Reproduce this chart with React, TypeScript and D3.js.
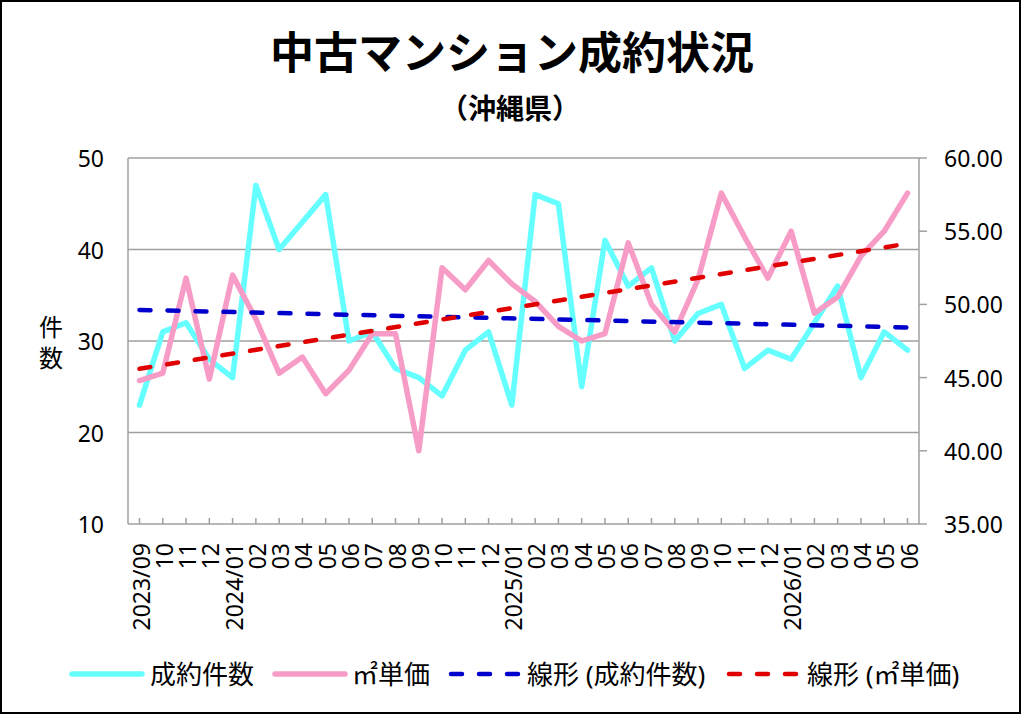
import React from 'react';
import * as d3 from 'd3';

// months shown on the x axis
const months = [
  '2023/09', '10', '11', '12',
  '2024/01', '02', '03', '04', '05', '06', '07', '08', '09', '10', '11', '12',
  '2025/01', '02', '03', '04', '05', '06', '07', '08', '09', '10', '11', '12',
  '2026/01', '02', '03', '04', '05', '06'
];
// 成約件数 (left axis)
const counts = [
  23, 31, 32, 28,
  26, 47, 40, 43, 46, 30, 31, 27, 26, 24, 29, 31,
  23, 46, 45, 25, 41, 36, 38, 30, 33, 34, 27, 29,
  28, 32, 36, 26, 31, 29
];
// ㎡単価 (right axis)
const unitPrices = [
  44.8, 45.3, 51.8, 44.9,
  52.0, 49.0, 45.3, 46.4, 43.9, 45.5, 48.0, 48.0, 40.0, 52.5, 51.0, 53.0,
  51.4, 50.2, 48.5, 47.5, 48.0, 54.2, 50.0, 48.1, 51.7, 57.6, 54.6, 51.8,
  55.0, 49.4, 50.5, 53.3, 55.0, 57.6
];
const leftTicks = [10, 20, 30, 40, 50];
const rightTicks = [35, 40, 45, 50, 55, 60];

const W = 1024, H = 716;
const plot = { left: 128, right: 919, top: 158, bottom: 524 };
const font = "'Noto Sans', 'Noto Sans CJK JP', sans-serif";
const cyan = '#66ffff';
const pink = '#f79cc6';
const blue = '#0000cc';
const red = '#e00000';
const grid = '#a0a0a0';

// least squares line, like Excel's linear trendline
function linearFit(vals: number[]) {
  const n = vals.length;
  const mx = d3.mean(vals.map((_, i) => i)) as number;
  const my = d3.mean(vals) as number;
  let sxy = 0, sxx = 0;
  vals.forEach((v, i) => { sxy += (i - mx) * (v - my); sxx += (i - mx) * (i - mx); });
  const slope = sxy / sxx;
  return [0, n - 1].map(i => ({ i, v: my + slope * (i - mx) }));
}

export default function App() {
  const x = d3.scalePoint<number>()
    .domain(months.map((_, i) => i))
    .range([plot.left + 11.5, plot.right - 11.5]);
  const yL = d3.scaleLinear().domain([10, 50]).range([plot.bottom, plot.top]);
  const yR = d3.scaleLinear().domain([35, 60]).range([plot.bottom, plot.top]);

  const lineL = d3.line<number>().x((_, i) => x(i) as number).y(d => yL(d));
  const lineR = d3.line<number>().x((_, i) => x(i) as number).y(d => yR(d));
  const trendL = linearFit(counts);
  const trendR = linearFit(unitPrices);
  const trendLine = (s: d3.ScaleLinear<number, number>) =>
    d3.line<{ i: number; v: number }>().x(d => x(d.i) as number).y(d => s(d.v));

  const legendY = 674;
  const legend = [
    { x1: 72, x2: 142, tx: 150, color: cyan, dash: null, label: '成約件数' },
    { x1: 275, x2: 345, tx: 352, color: pink, dash: null, label: '㎡単価' },
    { x1: 451, x2: 520, tx: 527, color: blue, dash: '11 17', label: '線形 (成約件数)' },
    { x1: 729, x2: 799, tx: 807, color: red, dash: '11 17', label: '線形 (㎡単価)' }
  ];

  return (
    <svg width={W} height={H} style={{ position: 'absolute', left: 0, top: 0, background: '#fff' }}
      fontFamily={font}>
      <rect x={1} y={1} width={W - 5} height={H - 4} fill="#fff" stroke="#000" strokeWidth={2} />

      <text x={512} y={52} textAnchor="middle" dominantBaseline="central" fontSize={44} fontWeight="bold">
        中古マンション成約状況
      </text>
      <text x={510} y={108} textAnchor="middle" dominantBaseline="central" fontSize={28} fontWeight="bold">
        （沖縄県）
      </text>

      {/* gridlines */}
      {leftTicks.slice(1).map(t => (
        <line key={t} x1={plot.left} x2={plot.right} y1={yL(t)} y2={yL(t)} stroke={grid} strokeWidth={1.5} />
      ))}
      {/* axis lines */}
      <line x1={plot.left} x2={plot.left} y1={plot.top} y2={plot.bottom} stroke={grid} strokeWidth={1.5} />
      <line x1={plot.right} x2={plot.right} y1={plot.top} y2={plot.bottom} stroke={grid} strokeWidth={1.5} />
      <line x1={plot.left} x2={plot.right} y1={plot.bottom} y2={plot.bottom} stroke={grid} strokeWidth={1.5} />
      {rightTicks.map(t => (
        <line key={t} x1={plot.right} x2={plot.right + 8} y1={yR(t)} y2={yR(t)} stroke={grid} strokeWidth={1.5} />
      ))}
      {months.map((_, i) => (
        <line key={i} x1={x(i)} x2={x(i)} y1={plot.bottom - 6} y2={plot.bottom} stroke={grid} strokeWidth={1.5} />
      ))}

      {/* tick labels */}
      {leftTicks.map(t => (
        <text key={t} x={104} y={yL(t)} textAnchor="end" dominantBaseline="central" fontSize={23}>{t}</text>
      ))}
      {rightTicks.map(t => (
        <text key={t} x={944} y={yR(t)} textAnchor="start" dominantBaseline="central" fontSize={23}>{t.toFixed(2)}</text>
      ))}
      {months.map((m, i) => (
        <text key={i} transform={`translate(${(x(i) as number) + 1},${543}) rotate(-90)`}
          textAnchor="end" dominantBaseline="central" fontSize={23}>{m}</text>
      ))}
      <text x={51} y={326} textAnchor="middle" dominantBaseline="central" fontSize={24}>件</text>
      <text x={51} y={357} textAnchor="middle" dominantBaseline="central" fontSize={24}>数</text>

      {/* series */}
      <path d={lineL(counts) as string} fill="none" stroke={cyan} strokeWidth={5.5}
        strokeLinejoin="round" strokeLinecap="round" />
      <path d={lineR(unitPrices) as string} fill="none" stroke={pink} strokeWidth={5.5}
        strokeLinejoin="round" strokeLinecap="round" />
      <path d={trendLine(yL)(trendL) as string} fill="none" stroke={blue} strokeWidth={4.5}
        strokeDasharray="11 17" strokeLinecap="round" />
      <path d={trendLine(yR)(trendR) as string} fill="none" stroke={red} strokeWidth={4.5}
        strokeDasharray="11 17" strokeLinecap="round" />

      {/* legend */}
      {legend.map(l => (
        <g key={l.label}>
          <line x1={l.x1} x2={l.x2} y1={legendY} y2={legendY} stroke={l.color}
            strokeWidth={l.dash ? 4.5 : 5.5} strokeLinecap="round" strokeDasharray={l.dash ?? undefined} />
          <text x={l.tx} y={legendY} dominantBaseline="central" fontSize={26}>{l.label}</text>
        </g>
      ))}
    </svg>
  );
}
